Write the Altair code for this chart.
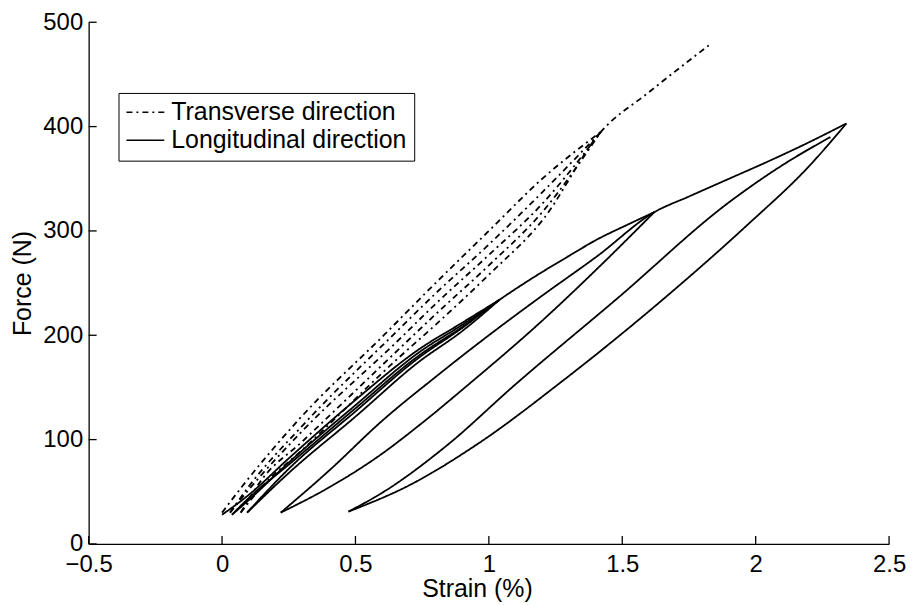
import altair as alt
import pandas as pd

# ---- data (strain %, force N) ----
# Longitudinal direction: one continuous loading/unloading history
long_strain = [
    0.0, 0.1, 0.25, 0.5, 0.735, 0.9, 1.04,            # virgin loading to 1st peak
    0.9, 0.735, 0.5, 0.25, 0.1, 0.037,                # unload
    0.1, 0.25, 0.5, 0.735, 0.9, 1.04,                 # reload
    0.9, 0.735, 0.5, 0.25, 0.094,                     # unload
    0.25, 0.5, 0.735, 0.9, 1.04,                      # reload
    1.146, 1.3, 1.407, 1.52, 1.62,                    # virgin to 2nd peak
    1.407, 1.2, 0.92, 0.75, 0.586, 0.4, 0.22,         # unload
    0.4, 0.6, 0.8, 1.0, 1.2, 1.407, 1.62,             # reload
    1.75, 1.9, 2.05, 2.2, 2.34,                       # virgin to 3rd peak
    2.2, 1.97, 1.66, 1.27, 0.959, 0.7, 0.474,         # unload
    0.6, 0.836, 1.1, 1.48, 1.903, 2.1, 2.28,          # reload
]
long_force = [
    28, 47, 82, 138, 186, 212, 234,
    208, 180, 130, 76, 44, 28,
    42, 78, 133, 183, 210, 234,
    204, 174, 122, 68, 30,
    72, 127, 178, 207, 234,
    252, 276, 292, 306, 318,
    264, 214, 152, 116, 84, 54, 30,
    70, 118, 160, 200, 238, 276, 318,
    333, 350, 367, 385, 403,
    362, 306, 236, 155, 96, 56, 31,
    49, 93, 153, 235, 328, 363, 390,
]

# Transverse direction
trans_strain = [
    0.0, 0.075, 0.287, 0.61, 0.8, 0.996, 1.2, 1.42,
    1.2, 1.0, 0.8, 0.66, 0.3, 0.1, 0.03,
    0.1, 0.3, 0.66, 0.8, 1.0, 1.2, 1.42,
    1.2, 1.0, 0.8, 0.66, 0.3, 0.15, 0.07,
    0.15, 0.3, 0.66, 0.8, 1.0, 1.2, 1.42, 1.6, 1.825,
]
trans_force = [
    30, 55, 119, 201, 250, 299, 350, 395,
    337, 287, 240, 205, 113, 55, 30,
    52, 108, 195, 230, 277, 326, 395,
    318, 267, 220, 186, 98, 62, 30,
    55, 90, 178, 210, 258, 310, 395, 433, 478,
]

series_names = ["Transverse direction", "Longitudinal direction"]
x_ticks = [-0.5, 0, 0.5, 1, 1.5, 2, 2.5]
y_ticks = [0, 100, 200, 300, 400, 500]


def split_segments(xv, yv):
    """Split a path into loading / unloading branches (monotone in strain)."""
    segs, cur, direction = [], [(xv[0], yv[0])], 0
    for a, b in zip(xv[1:], yv[1:]):
        d = 1 if a > cur[-1][0] else -1
        if direction != 0 and d != direction:
            segs.append(cur)
            cur = [cur[-1]]
        direction = d
        cur.append((a, b))
    segs.append(cur)
    return segs


rows = []
for name, xv, yv in [(series_names[0], trans_strain, trans_force),
                     (series_names[1], long_strain, long_force)]:
    for k, seg in enumerate(split_segments(xv, yv)):
        for a, b in seg:
            rows.append({"series": name, "seg": f"{name}-{k}", "strain": a, "force": b})
df = pd.DataFrame(rows)

FONT = "Liberation Sans"
xs = alt.Scale(domain=[-0.5, 2.5], nice=False, zero=False)
ys = alt.Scale(domain=[0, 500], nice=False, zero=False)
x_axis = alt.Axis(title="Strain (%)", values=x_ticks, labelPadding=9, titlePadding=0,
                  titleX=390, labelFlush=False, labelOverlap=False, format="~g")
y_axis = alt.Axis(title="Force (N)", values=y_ticks, labelPadding=6, titlePadding=7,
                  labelOverlap=False, labelFlush=False)

lines = alt.Chart(df).mark_line(color="black", strokeWidth=1.8, strokeJoin="round",
                                interpolate="monotone").encode(
    x=alt.X("strain:Q", scale=xs, axis=x_axis),
    y=alt.Y("force:Q", scale=ys, axis=y_axis),
    strokeDash=alt.StrokeDash(
        "series:N",
        scale=alt.Scale(domain=series_names, range=[[6, 4, 2, 4], [1, 0]]),
        legend=alt.Legend(title=None, orient="none", legendX=30, legendY=71,
                          symbolType="stroke", symbolSize=1444, symbolStrokeWidth=1.5,
                          symbolStrokeColor="black", labelFont=FONT, labelFontSize=25,
                          labelColor="black", labelLimit=500, strokeColor="black",
                          fillColor="white", padding=7, rowPadding=2, labelOffset=6,
                          clipHeight=25, cornerRadius=0),
    ),
    detail="seg:N",
    order="strain:Q",
)

xtick_df = pd.DataFrame({"t": x_ticks, "a": [0.0] * len(x_ticks), "b": [7.6] * len(x_ticks)})
ytick_df = pd.DataFrame({"t": y_ticks, "a": [-0.5] * len(y_ticks), "b": [-0.47] * len(y_ticks)})

xt = alt.Chart(xtick_df).mark_rule(color="black", strokeWidth=1.3).encode(
    x=alt.X("t:Q", scale=xs, axis=x_axis),
    y=alt.Y("a:Q", scale=ys, axis=y_axis),
    y2="b:Q",
)
yt = alt.Chart(ytick_df).mark_rule(color="black", strokeWidth=1.3).encode(
    y=alt.Y("t:Q", scale=ys, axis=y_axis),
    x=alt.X("a:Q", scale=xs, axis=x_axis),
    x2="b:Q",
)

chart = alt.layer(lines, xt, yt).properties(
    width=804, height=524,
    padding={"left": 81, "top": 13, "right": 17, "bottom": 58},
    autosize=alt.AutoSizeParams(type="none"),
).configure_view(stroke=None).configure_axis(
    grid=False, ticks=False, tickSize=0,
    domainColor="black", domainWidth=1.3,
    labelFont=FONT, labelFontSize=24, labelColor="black",
    titleFont=FONT, titleFontSize=25, titleFontWeight="normal", titleColor="black",
)

chart.save("out.html", embed_options={"renderer": "svg", "actions": False})
